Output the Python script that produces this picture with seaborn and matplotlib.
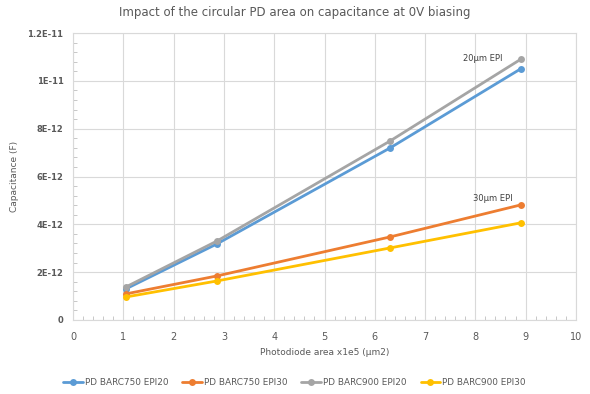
import matplotlib
matplotlib.use("Agg")
import matplotlib.pyplot as plt
from matplotlib.ticker import MultipleLocator, FixedLocator
import seaborn as sns
import pandas as pd

# Photodiode area (x1e5 um2) and measured capacitance (F)
area = [1.05, 2.86, 6.3, 8.9]
barc750_epi20 = [1.30e-12, 3.18e-12, 7.19e-12, 1.05e-11]
barc750_epi30 = [1.09e-12, 1.84e-12, 3.47e-12, 4.81e-12]
barc900_epi20 = [1.38e-12, 3.30e-12, 7.48e-12, 1.09e-11]
barc900_epi30 = [0.96e-12, 1.63e-12, 3.01e-12, 4.06e-12]
series_names = ["PD BARC750 EPI20", "PD BARC750 EPI30", "PD BARC900 EPI20", "PD BARC900 EPI30"]
y_tick_values = [0, 2e-12, 4e-12, 6e-12, 8e-12, 1e-11, 1.2e-11]
y_tick_labels = ["0", "2E-12", "4E-12", "6E-12", "8E-12", "1E-11", "1.2E-11"]

frames = []
for name, vals in zip(series_names, [barc750_epi20, barc750_epi30, barc900_epi20, barc900_epi30]):
    frames.append(pd.DataFrame({"area": area, "cap": vals, "series": name}))
df = pd.concat(frames, ignore_index=True)

palette = {
    "PD BARC750 EPI20": "#5B9BD5",
    "PD BARC750 EPI30": "#ED7D31",
    "PD BARC900 EPI20": "#A5A5A5",
    "PD BARC900 EPI30": "#FFC000",
}

sns.set_style("white")
plt.rcParams["font.family"] = ["DejaVu Sans"]

fig = plt.figure(figsize=(5.9, 3.94), dpi=100)
ax = fig.add_axes([0.124, 0.188, 0.852, 0.728])

sns.lineplot(data=df, x="area", y="cap", hue="series", hue_order=series_names,
             palette=palette, marker="o", markersize=5, markeredgewidth=0,
             linewidth=2, ax=ax, legend=True)

ax.set_xlim(0, 10)
ax.set_ylim(0, 1.2e-11)
ax.xaxis.set_major_locator(MultipleLocator(1))
ax.xaxis.set_minor_locator(MultipleLocator(0.2))
ax.yaxis.set_major_locator(FixedLocator(y_tick_values))
ax.yaxis.set_minor_locator(MultipleLocator(4e-13))
ax.set_yticklabels(y_tick_labels)

ax.grid(True, which="major", color="#D9D9D9", linewidth=0.8)
ax.set_axisbelow(True)
for s in ax.spines.values():
    s.set_color("#D9D9D9")
    s.set_linewidth(0.8)

ax.tick_params(bottom=True, left=True, which="both")
ax.tick_params(axis="both", which="major", length=0, labelsize=7, colors="#595959", pad=9)
ax.tick_params(axis="both", which="minor", length=3, direction="in", color="#BFBFBF", width=0.6)
ax.tick_params(axis="y", which="major", labelsize=6, pad=7)
for lab in ax.get_yticklabels():
    lab.set_fontweight("bold")

ax.set_xlabel("Photodiode area x1e5 (µm2)", fontsize=6.5, color="#595959", labelpad=4)
ax.set_ylabel("Capacitance (F)", fontsize=6.5, color="#595959", labelpad=6)
fig.suptitle("Impact of the circular PD area on capacitance at 0V biasing",
             fontsize=8.5, color="#595959", x=0.5, y=0.985)

ax.text(8.15, 1.095e-11, "20µm EPI", fontsize=6, color="#404040", ha="center", va="center")
ax.text(8.35, 5.1e-12, "30µm EPI", fontsize=6, color="#404040", ha="center", va="center")

leg = ax.legend(loc="upper center", bbox_to_anchor=(0.44, -0.175), ncol=4, frameon=False,
                fontsize=6.4, handlelength=2.2, columnspacing=1.6, handletextpad=0.2)
for t in leg.get_texts():
    t.set_color("#595959")

fig.savefig("out.png", dpi=100)
